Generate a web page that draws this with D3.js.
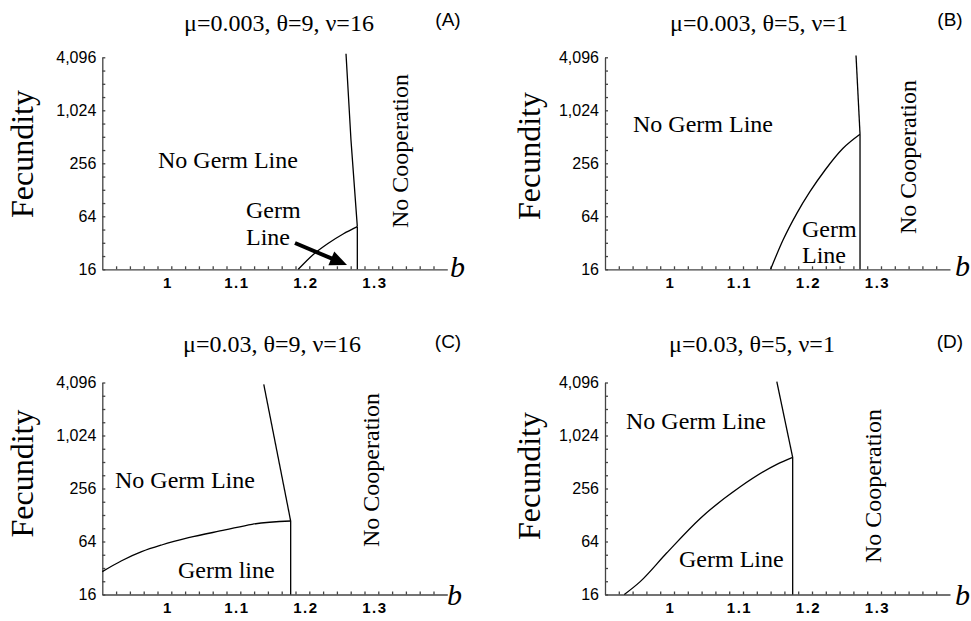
<!DOCTYPE html>
<html>
<head>
<meta charset="utf-8">
<script src="https://cdn.jsdelivr.net/npm/d3@7"></script>
<style>
  body { margin: 0; background: #fff; }
  .serif { font-family: "Liberation Serif", "Times New Roman", serif; fill: #000; }
  .sans { font-family: "Liberation Sans", Arial, sans-serif; fill: #000; }
  .axis path, .axis line { stroke: #444; stroke-width: 1.3; }
  .axis text { font-family: "Liberation Sans", Arial, sans-serif; fill: #000; }
  .boundary { fill: none; stroke: #000; stroke-width: 1.3; }
</style>
</head>
<body>
<script>
// axes
const bDomain = [0.9, 1.4];
const fDomain = [16, 4096];
const bTickValues = [1, 1.1, 1.2, 1.3];
const fTickValues = [16, 64, 256, 1024, 4096];

const panelTitles = ["μ=0.003, θ=9, ν=16", "μ=0.003, θ=5, ν=1", "μ=0.03, θ=9, ν=16", "μ=0.03, θ=5, ν=1"];
const panelLetters = ["(A)", "(B)", "(C)", "(D)"];

// boundaries: [b, fecundity]
const germLineA = [[1.184, 16], [1.205, 23.3], [1.227, 31.4], [1.249, 40.3], [1.2696, 48.8]];
const noCoopA = [[1.2532, 4500], [1.2604, 471], [1.2696, 48.8]];
const critA = [[1.2696, 16], [1.2696, 48.8]];

const germLineB = [[1.140, 16], [1.158, 34.4], [1.178, 69.2], [1.197, 121.8], [1.219, 214.9], [1.245, 379], [1.2696, 547]];
const noCoopB = [[1.2638, 4300], [1.2696, 547]];
const critB = [[1.2696, 16], [1.2696, 547]];

const germLineC = [[0.9, 29.1], [0.928, 38.7], [0.957, 49], [0.986, 58.4], [1.025, 70.7], [1.078, 86.5], [1.117, 100.4], [1.173, 109.4]];
const noCoopC = [[1.134, 3900], [1.173, 109.4]];
const critC = [[1.173, 16], [1.173, 109.4]];

const germLineD = [[0.928, 16], [0.951, 22.4], [0.989, 47], [1.038, 117], [1.096, 268], [1.149, 482], [1.172, 579]];
const noCoopD = [[1.149, 4180], [1.172, 579]];
const critD = [[1.172, 16], [1.172, 579]];

const width = 971, height = 621;
const plotW = 345, plotH = 212;

// where each panel sits and where its words go (relative to plot top-left)
const panels = [
  { x0: 102.3, y0: 57.3, germ: germLineA, lines: [noCoopA, critA],
    title: [176.7, -26.3], letter: [345.7, -31.8], ylab: [-69.3, 96.7], b: [347.7, 219.7],
    words: [{ t: "No Germ Line", p: [55.7, 110.7] }, { t: "Germ", p: [143.7, 160.7] }, { t: "Line", p: [143.7, 187.7] }],
    coop: [305.7, 93.7], arrow: [[192.7, 185.7], [244.7, 207.7]] },
  { x0: 605, y0: 57.3, germ: germLineB, lines: [noCoopB, critB],
    title: [154, -26.3], letter: [345, -31.8], ylab: [-65, 98.7], b: [350, 218.7],
    words: [{ t: "No Germ Line", p: [28, 74.4] }, { t: "Germ", p: [197, 179.7] }, { t: "Line", p: [197, 205.7] }],
    coop: [311, 99.7] },
  { x0: 102.3, y0: 382.5, germ: germLineC, lines: [noCoopC, critC],
    title: [169.7, -30.8], letter: [345.7, -34.5], ylab: [-69.3, 91], b: [344.7, 222.5],
    words: [{ t: "No Germ Line", p: [12.7, 105.5] }, { t: "Germ line", p: [75.7, 195.5] }],
    coop: [276.7, 87.5] },
  { x0: 605, y0: 382.5, germ: germLineD, lines: [noCoopD, critD],
    title: [147, -30.8], letter: [345, -34.5], ylab: [-65, 93.5], b: [350, 222.5],
    words: [{ t: "No Germ Line", p: [21, 46.5] }, { t: "Germ Line", p: [74, 184.2] }],
    coop: [276, 103.5] }
];

const svg = d3.select("body").append("svg")
    .attr("width", width)
    .attr("height", height);

const x = d3.scaleLinear().domain(bDomain).range([0, plotW]);
const y = d3.scaleLog().base(2).domain(fDomain).range([plotH, 0]);

const bMinor = d3.range(46, 70).map(i => i / 50);
const fMinor = d3.range(8, 25).map(i => Math.pow(2, i / 2));
const isMajor = (vals, d) => vals.some(v => Math.abs(v - d) < 1e-6);

const line = d3.line().x(d => x(d[0])).y(d => y(d[1]));
const smooth = d3.line().x(d => x(d[0])).y(d => y(d[1])).curve(d3.curveMonotoneX);

panels.forEach((p, i) => {
    const g = svg.append("g").attr("transform", `translate(${p.x0},${p.y0})`);

    // x axis
    const xa = g.append("g")
        .attr("class", "axis")
        .attr("transform", `translate(0,${plotH})`)
        .call(d3.axisBottom(x)
            .tickValues(bMinor)
            .tickSizeInner(-3)
            .tickSizeOuter(0)
            .tickPadding(8)
            .tickFormat(d => isMajor(bTickValues, d) ? (d === 1 ? "1" : d3.format(".1f")(d)) : ""));
    xa.selectAll("text")
        .attr("dx", -4)
        .style("font-size", "15px")
        .style("font-weight", "bold")
        .style("letter-spacing", "1.5px");

    // y axis
    const ya = g.append("g")
        .attr("class", "axis")
        .call(d3.axisLeft(y)
            .tickValues(fMinor)
            .tickSizeInner(-3)
            .tickSizeOuter(0)
            .tickPadding(6)
            .tickFormat(d => isMajor(fTickValues, d) ? d3.format(",")(Math.round(d)) : ""));
    ya.selectAll("text").style("font-size", "16px");

    // boundaries
    g.append("path")
        .attr("class", "boundary")
        .attr("d", smooth(p.germ));
    g.selectAll("path.edge")
        .data(p.lines)
        .enter().append("path")
        .attr("class", "boundary edge")
        .attr("d", line);

    // title and letter
    g.append("text").attr("class", "serif")
        .attr("x", p.title[0]).attr("y", p.title[1])
        .attr("text-anchor", "middle")
        .style("font-size", "24px")
        .text(panelTitles[i]);
    g.append("text").attr("class", "sans")
        .attr("x", p.letter[0]).attr("y", p.letter[1])
        .attr("text-anchor", "middle")
        .style("font-size", "19px")
        .text(panelLetters[i]);

    // y label
    g.append("text").attr("class", "serif")
        .attr("transform", `translate(${p.ylab[0]},${p.ylab[1]}) rotate(-90)`)
        .attr("text-anchor", "middle")
        .style("font-size", "32px")
        .text("Fecundity");

    // b
    g.append("text").attr("class", "serif")
        .attr("x", p.b[0]).attr("y", p.b[1])
        .style("font-size", "30px")
        .style("font-style", "italic")
        .text("b");

    // region words
    g.selectAll("text.word")
        .data(p.words)
        .enter().append("text")
        .attr("class", "serif word")
        .attr("x", d => d.p[0]).attr("y", d => d.p[1])
        .style("font-size", "24px")
        .text(d => d.t);

    g.append("text").attr("class", "serif")
        .attr("transform", `translate(${p.coop[0]},${p.coop[1]}) rotate(-90)`)
        .attr("text-anchor", "middle")
        .style("font-size", "24px")
        .text("No Cooperation");

    if (p.arrow) {
        const [a, t] = p.arrow;
        const dx = t[0] - a[0], dy = t[1] - a[1];
        const len = Math.hypot(dx, dy);
        const ux = dx / len, uy = dy / len;
        const headL = 17, headW = 7.5;
        const bx = t[0] - ux * headL, by = t[1] - uy * headL;
        g.append("line")
            .attr("x1", a[0]).attr("y1", a[1])
            .attr("x2", bx + ux * 2).attr("y2", by + uy * 2)
            .attr("stroke", "#000")
            .attr("stroke-width", 4);
        g.append("path")
            .attr("d", `M${t[0]},${t[1]}L${bx - uy * headW},${by + ux * headW}L${bx + uy * headW},${by - ux * headW}Z`)
            .attr("fill", "#000");
    }
});
</script>
</body>
</html>
